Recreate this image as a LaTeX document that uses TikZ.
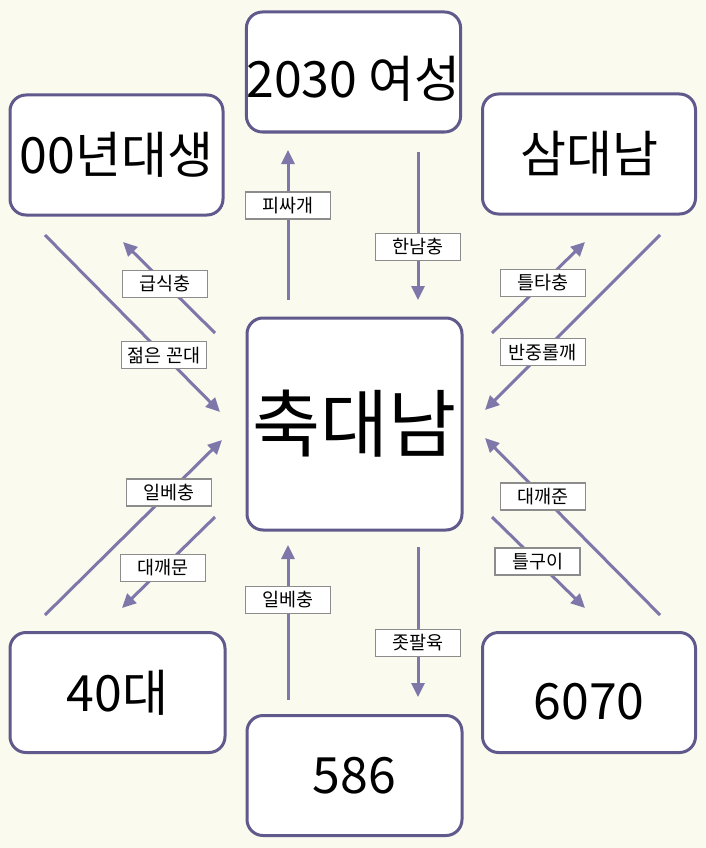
\documentclass[tikz,border=0pt]{standalone}
\usepackage{fontspec}
\setmainfont{Noto Sans CJK KR}
\usetikzlibrary{arrows.meta}
\definecolor{bgcream}{RGB}{250,250,238}
\definecolor{boxline}{RGB}{96,89,140}
\definecolor{arrline}{RGB}{126,119,170}
\definecolor{tagline}{RGB}{140,140,140}

\begin{document}
\begin{tikzpicture}[
    x=1pt, y=-1pt,
    grp/.style={draw=boxline, line width=3pt, rounded corners=16pt, fill=white, minimum width=213pt, minimum height=120pt, inner sep=0pt, font=\fontsize{50}{54}\selectfont},
    tag/.style={draw=tagline, line width=1.2pt, fill=white, minimum width=85pt, minimum height=27pt, inner sep=0pt, font=\fontsize{18.5}{20}\selectfont},
    arrow/.style={draw=arrline, line width=3pt, -{Triangle[length=14pt, width=13pt]}}
]
% background and page size
\fill[bgcream] (0,0) rectangle (706,848);
\useasboundingbox (0,0) rectangle (706,848);

% groups
\node[grp, minimum width=215pt, minimum height=212pt, font=\fontsize{74}{78}\selectfont] (core) at (354.5,424) {축대남};
\node[grp] (women) at (353.5,72) {\raisebox{-7pt}[\height][\depth]{2030 여성}};
\node[grp] (gen00) at (116.5,155) {00년대생};
\node[grp] (three) at (589,154) {삼대남};
\node[grp, minimum width=215pt] (forty) at (117.5,692.5) {40대};
\node[grp, minimum width=215pt] (sixties) at (354.5,775.5) {586};
\node[grp] (seventy) at (589,692.5) {\raisebox{-9pt}[\height][\depth]{6070}};

% arrow ends
\coordinate (pissa-a) at (288,300);  \coordinate (pissa-b) at (288,150);
\coordinate (hannam-a) at (418,152); \coordinate (hannam-b) at (418,300);
\coordinate (geup-a) at (215,333);   \coordinate (geup-b) at (123,242);
\coordinate (kkon-a) at (45,235);    \coordinate (kkon-b) at (220,412);
\coordinate (teul-a) at (492,333);   \coordinate (teul-b) at (585,242);
\coordinate (ban-a) at (660,235);    \coordinate (ban-b) at (485,410);
\coordinate (ilbeL-a) at (45,615);   \coordinate (ilbeL-b) at (222,440);
\coordinate (moon-a) at (215,517);   \coordinate (moon-b) at (122,608);
\coordinate (ilbeB-a) at (288,700);  \coordinate (ilbeB-b) at (288,545);
\coordinate (pal-a) at (418,547);    \coordinate (pal-b) at (418,697);
\coordinate (joon-a) at (660,615);   \coordinate (joon-b) at (485,438);
\coordinate (gui-a) at (492,517);    \coordinate (gui-b) at (585,608);

% connectors
\draw[arrow] (pissa-a) -- node[tag, pos=0.63] (pissa) {피싸개} (pissa-b);
\draw[arrow] (hannam-a) -- node[tag, pos=0.64] (hannam) {한남충} (hannam-b);
\draw[arrow] (geup-a) -- node[tag, pos=0.54] (geup) {급식충} (geup-b);
\draw[arrow] (kkon-a) -- node[tag, pos=0.68] (kkon) {젊은 꼰대} (kkon-b);
\draw[arrow] (teul-a) -- node[tag, pos=0.55] (teul) {틀타충} (teul-b);
\draw[arrow] (ban-a) -- node[tag, pos=0.67] (ban) {반중롤깨} (ban-b);
\draw[arrow] (ilbeL-a) -- node[tag, pos=0.7] (ilbeL) {일베충} (ilbeL-b);
\draw[arrow] (moon-a) -- node[tag, pos=0.56] (moon) {대깨문} (moon-b);
\draw[arrow] (ilbeB-a) -- node[tag, pos=0.645] (ilbeB) {일베충} (ilbeB-b);
\draw[arrow] (pal-a) -- node[tag, pos=0.64] (pal) {좃팔육} (pal-b);
\draw[arrow] (joon-a) -- node[tag, pos=0.67] (joon) {대깨준} (joon-b);
\draw[arrow] (gui-a) -- node[tag, pos=0.49] (gui) {틀구이} (gui-b);
\end{tikzpicture}
\end{document}
